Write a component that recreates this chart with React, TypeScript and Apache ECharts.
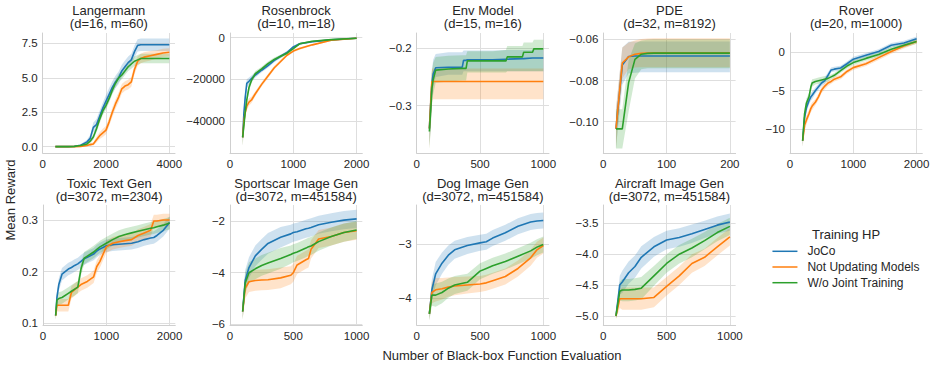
import React, { useEffect, useRef } from "react";
import * as echarts from "echarts";

const FONT = '"Liberation Sans", Arial, Helvetica, sans-serif';
const TEXT = "#262626";
const GRID = "#dedede";
const SPINE = "#cfcfcf";

const seriesNames = ["JoCo", "Not Updating Models", "W/o Joint Training"];
const seriesColors = ["#1f77b4", "#ff7f0e", "#2ca02c"];
const bandColors = ["rgba(31,119,180,0.22)", "rgba(255,127,14,0.22)", "rgba(44,160,44,0.22)"];

// ---------- Langermann ----------
const langX = [400, 800, 1000, 1200, 1400, 1500, 1600, 1700, 1800, 1900, 2000, 2100, 2200, 2300, 2400, 2500, 2600, 2700, 2800, 2900, 3000, 3100, 3200, 3400, 3600, 3800, 4000];
const langJoCo = [0, 0, 0.02, 0.1, 0.35, 0.6, 1.4, 1.6, 2.2, 2.8, 3.3, 3.8, 4.3, 4.7, 5.0, 5.5, 5.8, 6.1, 6.3, 6.9, 7.35, 7.4, 7.4, 7.4, 7.4, 7.4, 7.4];
const langJoCoSd = [0, 0, 0.02, 0.08, 0.15, 0.25, 0.35, 0.4, 0.4, 0.4, 0.45, 0.45, 0.45, 0.45, 0.45, 0.45, 0.45, 0.45, 0.45, 0.45, 0.45, 0.45, 0.45, 0.45, 0.45, 0.45, 0.45];
const langNoUpd = [0, 0, 0, 0.02, 0.08, 0.15, 0.2, 0.5, 0.8, 1.0, 1.2, 1.8, 2.5, 3.1, 3.6, 4.2, 4.4, 4.5, 4.7, 5.6, 6.2, 6.4, 6.5, 6.6, 6.7, 6.8, 6.85];
const langNoUpdSd = [0, 0, 0, 0.02, 0.05, 0.1, 0.12, 0.2, 0.25, 0.3, 0.3, 0.3, 0.35, 0.35, 0.35, 0.35, 0.35, 0.35, 0.35, 0.35, 0.35, 0.35, 0.35, 0.35, 0.3, 0.3, 0.3];
const langNoJoint = [0, 0, 0.02, 0.08, 0.2, 0.4, 0.7, 1.3, 2.0, 2.6, 3.0, 3.5, 4.1, 4.6, 5.0, 5.2, 5.5, 5.8, 6.0, 6.2, 6.3, 6.4, 6.4, 6.4, 6.4, 6.4, 6.4];
const langNoJointSd = [0, 0, 0.02, 0.05, 0.1, 0.15, 0.2, 0.25, 0.3, 0.3, 0.3, 0.3, 0.3, 0.3, 0.3, 0.3, 0.3, 0.3, 0.35, 0.35, 0.35, 0.35, 0.35, 0.35, 0.35, 0.35, 0.35];
const langXTicks = [0, 2000, 4000];
const langXLabels = ["0", "2000", "4000"];
const langYTicks = [0, 2.5, 5, 7.5];
const langYLabels = ["0.0", "2.5", "5.0", "7.5"];

// ---------- Rosenbrock ----------
const rosX = [200, 220, 240, 265, 300, 340, 400, 500, 600, 700, 800, 900, 1000, 1100, 1300, 1600, 2000];
const rosJoCo = [-48000, -36000, -29000, -22000, -21000, -19700, -18000, -15700, -13500, -11000, -9000, -7200, -4500, -3000, -2000, -1100, -300];
const rosNoUpd = [-48000, -40000, -36000, -33000, -31000, -30000, -27000, -22500, -18500, -14500, -11500, -8500, -6500, -5300, -3500, -1300, -300];
const rosNoJoint = [-48000, -42000, -36000, -30000, -24000, -20500, -17300, -15000, -12500, -10500, -9000, -7500, -5300, -3000, -1800, -1000, -300];
const rosSd = [4000, 3000, 2500, 2000, 1800, 1500, 1200, 1000, 1000, 900, 800, 700, 600, 500, 400, 300, 200];
const rosXTicks = [0, 1000, 2000];
const rosXLabels = ["0", "1000", "2000"];
const rosYTicks = [-40000, -20000, 0];
const rosYLabels = ["\u221240000", "\u221220000", "0"];

// ---------- Env Model ----------
const envX = [100, 110, 120, 130, 150, 250, 360, 370, 390, 400, 600, 705, 715, 835, 845, 915, 925, 1000];
const envJoCo = [-0.34, -0.3, -0.262, -0.245, -0.234, -0.233, -0.233, -0.221, -0.221, -0.22, -0.22, -0.219, -0.219, -0.218, -0.218, -0.217, -0.217, -0.217];
const envJoCoLo = [-0.37, -0.34, -0.29, -0.27, -0.25, -0.246, -0.246, -0.24, -0.24, -0.24, -0.24, -0.24, -0.24, -0.24, -0.24, -0.24, -0.24, -0.24];
const envJoCoHi = [-0.31, -0.27, -0.24, -0.22, -0.21, -0.207, -0.207, -0.204, -0.204, -0.204, -0.204, -0.203, -0.203, -0.203, -0.203, -0.203, -0.203, -0.203];
const envNoUpd = [-0.34, -0.3, -0.258, -0.258, -0.258, -0.258, -0.258, -0.258, -0.258, -0.258, -0.258, -0.258, -0.258, -0.258, -0.258, -0.258, -0.258, -0.258];
const envNoUpdLo = [-0.375, -0.34, -0.295, -0.289, -0.289, -0.289, -0.289, -0.289, -0.289, -0.289, -0.289, -0.289, -0.289, -0.289, -0.289, -0.289, -0.289, -0.289];
const envNoUpdHi = [-0.305, -0.265, -0.235, -0.235, -0.235, -0.235, -0.235, -0.235, -0.235, -0.235, -0.235, -0.235, -0.235, -0.235, -0.235, -0.235, -0.235, -0.235];
const envNoJoint = [-0.345, -0.31, -0.27, -0.255, -0.238, -0.236, -0.235, -0.235, -0.235, -0.222, -0.222, -0.222, -0.215, -0.215, -0.207, -0.207, -0.201, -0.201];
const envNoJointLo = [-0.375, -0.345, -0.3, -0.28, -0.26, -0.258, -0.256, -0.256, -0.256, -0.242, -0.242, -0.242, -0.24, -0.24, -0.24, -0.24, -0.24, -0.24];
const envNoJointHi = [-0.315, -0.275, -0.24, -0.225, -0.215, -0.213, -0.212, -0.212, -0.212, -0.205, -0.205, -0.203, -0.196, -0.196, -0.19, -0.19, -0.185, -0.185];
const envXTicks = [0, 500, 1000];
const envXLabels = ["0", "500", "1000"];
const envYTicks = [-0.3, -0.2];
const envYLabels = ["\u22120.3", "\u22120.2"];

// ---------- PDE ----------
const pdeX = [20, 30, 40, 50, 60, 70, 80, 90, 100, 200];
const pdeJoCo = [-0.1035, -0.0725, -0.0683, -0.0681, -0.0681, -0.0681, -0.0681, -0.0681, -0.0681, -0.0681];
const pdeJoCoLo = [-0.113, -0.082, -0.0765, -0.0762, -0.076, -0.076, -0.076, -0.076, -0.076, -0.076];
const pdeJoCoHi = [-0.094, -0.064, -0.0612, -0.061, -0.061, -0.061, -0.061, -0.061, -0.061, -0.061];
const pdeNoUpd = [-0.1035, -0.0715, -0.0685, -0.0672, -0.0668, -0.0666, -0.0665, -0.0665, -0.0665, -0.0665];
const pdeNoUpdLo = [-0.113, -0.079, -0.0745, -0.0737, -0.0735, -0.0735, -0.0735, -0.0735, -0.0735, -0.0735];
const pdeNoUpdHi = [-0.094, -0.064, -0.0615, -0.0605, -0.0598, -0.0596, -0.0595, -0.0595, -0.0595, -0.0595];
const pdeNoJoint = [-0.1035, -0.1035, -0.081, -0.0697, -0.0672, -0.0668, -0.0667, -0.0667, -0.0667, -0.0667];
const pdeNoJointLo = [-0.113, -0.113, -0.095, -0.079, -0.0745, -0.074, -0.074, -0.074, -0.074, -0.074];
const pdeNoJointHi = [-0.094, -0.094, -0.07, -0.062, -0.0605, -0.0602, -0.0601, -0.06, -0.06, -0.06];
const pdeXTicks = [0, 100, 200];
const pdeXLabels = ["0", "100", "200"];
const pdeYTicks = [-0.1, -0.08, -0.06];
const pdeYLabels = ["\u22120.10", "\u22120.08", "\u22120.06"];

// ---------- Rover ----------
const rovX = [200, 230, 260, 300, 330, 350, 400, 450, 500, 550, 600, 650, 700, 800, 900, 1000, 1200, 1400, 1600, 1800, 2000];
const rovJoCo = [-11.5, -8.5, -7.2, -6.3, -5.8, -5.6, -5.0, -4.5, -4.0, -3.7, -3.0, -2.3, -2.2, -2.05, -1.5, -0.9, -0.4, 0.1, 0.9, 1.2, 1.75];
const rovNoUpd = [-11.5, -9.5, -8.8, -8.0, -7.3, -7.0, -6.5, -5.8, -4.9, -4.4, -4.0, -3.8, -3.5, -3.2, -2.5, -2.0, -1.5, -0.7, 0.1, 0.8, 1.4];
const rovNoJoint = [-11.5, -8.0, -6.6, -5.8, -4.5, -4.0, -3.8, -3.7, -3.6, -3.5, -3.4, -3.2, -3.0, -2.4, -1.8, -1.35, -0.8, -0.3, 0.4, 0.9, 1.4];
const rovSd = [0.8, 0.7, 0.6, 0.5, 0.5, 0.5, 0.4, 0.4, 0.4, 0.4, 0.4, 0.3, 0.3, 0.3, 0.3, 0.3, 0.3, 0.3, 0.3, 0.3, 0.3];
const rovXTicks = [0, 1000, 2000];
const rovXLabels = ["0", "1000", "2000"];
const rovYTicks = [-10, -5, 0];
const rovYLabels = ["\u221210", "\u22125", "0"];

// ---------- Toxic Text Gen ----------
const toxX = [200, 220, 250, 300, 400, 450, 500, 550, 600, 650, 700, 800, 850, 900, 1000, 1100, 1200, 1300, 1400, 1500, 1600, 1700, 1750, 1800, 1900, 2000];
const toxJoCo = [0.115, 0.15, 0.175, 0.195, 0.205, 0.208, 0.212, 0.215, 0.22, 0.225, 0.228, 0.234, 0.24, 0.244, 0.25, 0.252, 0.253, 0.254, 0.255, 0.258, 0.262, 0.265, 0.266, 0.27, 0.28, 0.295];
const toxNoUpd = [0.115, 0.135, 0.135, 0.135, 0.135, 0.16, 0.165, 0.17, 0.175, 0.178, 0.181, 0.19, 0.21, 0.22, 0.248, 0.255, 0.258, 0.26, 0.262, 0.27, 0.275, 0.28, 0.298, 0.298, 0.3, 0.3];
const toxNoJoint = [0.115, 0.145, 0.148, 0.15, 0.158, 0.162, 0.166, 0.17, 0.205, 0.226, 0.23, 0.238, 0.243, 0.248, 0.255, 0.262, 0.268, 0.272, 0.275, 0.278, 0.281, 0.284, 0.285, 0.287, 0.29, 0.294];
const toxSd = [0.008, 0.012, 0.012, 0.012, 0.012, 0.012, 0.012, 0.012, 0.012, 0.012, 0.012, 0.012, 0.012, 0.012, 0.012, 0.012, 0.012, 0.012, 0.012, 0.012, 0.012, 0.012, 0.012, 0.012, 0.012, 0.012];
const toxXTicks = [0, 1000, 2000];
const toxXLabels = ["0", "1000", "2000"];
const toxYTicks = [0.1, 0.2, 0.3];
const toxYLabels = ["0.1", "0.2", "0.3"];

// ---------- Sportscar Image Gen ----------
const spX = [100, 120, 150, 200, 250, 300, 400, 480, 500, 530, 600, 620, 640, 700, 800, 900, 1000];
const spJoCo = [-5.5, -4.3, -3.8, -3.35, -3.1, -2.87, -2.63, -2.5, -2.45, -2.42, -2.3, -2.28, -2.25, -2.15, -2.05, -1.97, -1.92];
const spNoUpd = [-5.5, -4.6, -4.35, -4.3, -4.28, -4.27, -4.2, -4.1, -4.0, -3.7, -3.5, -3.45, -3.1, -2.7, -2.6, -2.45, -2.38];
const spNoJoint = [-5.5, -4.4, -4.0, -3.85, -3.72, -3.63, -3.45, -3.3, -3.25, -3.2, -3.05, -3.0, -2.97, -2.8, -2.6, -2.45, -2.35];
const spSd = [0.3, 0.4, 0.4, 0.4, 0.4, 0.4, 0.4, 0.35, 0.35, 0.35, 0.35, 0.35, 0.35, 0.35, 0.35, 0.35, 0.35];
const spXTicks = [0, 500, 1000];
const spXLabels = ["0", "500", "1000"];
const spYTicks = [-6, -4, -2];
const spYLabels = ["\u22126", "\u22124", "\u22122"];

// ---------- Dog Image Gen ----------
const dogX = [100, 120, 150, 200, 250, 300, 400, 500, 550, 600, 700, 800, 900, 950, 1000];
const dogJoCo = [-4.3, -3.85, -3.55, -3.35, -3.2, -3.1, -3.02, -2.97, -2.95, -2.88, -2.78, -2.66, -2.58, -2.56, -2.55];
const dogNoUpd = [-4.3, -3.9, -3.85, -3.83, -3.8, -3.78, -3.76, -3.74, -3.72, -3.68, -3.6, -3.45, -3.25, -3.1, -3.02];
const dogNoJoint = [-4.3, -3.95, -3.95, -3.9, -3.82, -3.76, -3.71, -3.5, -3.45, -3.4, -3.32, -3.22, -3.12, -3.05, -3.0];
const dogSd = [0.12, 0.2, 0.22, 0.2, 0.18, 0.17, 0.16, 0.15, 0.15, 0.15, 0.15, 0.15, 0.15, 0.15, 0.15];
const dogXTicks = [0, 500, 1000];
const dogXLabels = ["0", "500", "1000"];
const dogYTicks = [-4, -3];
const dogYLabels = ["\u22124", "\u22123"];

// ---------- Aircraft Image Gen ----------
const airX = [100, 130, 150, 200, 250, 300, 400, 500, 600, 700, 800, 900, 1000];
const airJoCo = [-5.0, -4.5, -4.45, -4.3, -4.2, -4.05, -3.88, -3.77, -3.73, -3.67, -3.6, -3.53, -3.48];
const airNoUpd = [-5.0, -4.72, -4.72, -4.72, -4.72, -4.72, -4.7, -4.52, -4.35, -4.15, -4.05, -3.88, -3.72];
const airNoJoint = [-5.0, -4.6, -4.58, -4.58, -4.57, -4.55, -4.35, -4.15, -4.0, -3.9, -3.78, -3.65, -3.55];
const airSd = [0.05, 0.15, 0.18, 0.18, 0.18, 0.18, 0.16, 0.15, 0.15, 0.15, 0.14, 0.14, 0.14];
const airXTicks = [0, 500, 1000];
const airXLabels = ["0", "500", "1000"];
const airYTicks = [-5, -4.5, -4, -3.5];
const airYLabels = ["\u22125.0", "\u22124.5", "\u22124.0", "\u22123.5"];

const panelTitles = [
  "Langermann\n(d=16, m=60)",
  "Rosenbrock\n(d=10, m=18)",
  "Env Model\n(d=15, m=16)",
  "PDE\n(d=32, m=8192)",
  "Rover\n(d=20, m=1000)",
  "Toxic Text Gen\n(d=3072, m=2304)",
  "Sportscar Image Gen\n(d=3072, m=451584)",
  "Dog Image Gen\n(d=3072, m=451584)",
  "Aircraft Image Gen\n(d=3072, m=451584)",
];

function spreadBand(mean: number[], sd: number[]): [number[], number[]] {
  return [mean.map((m, i) => m - sd[i]), mean.map((m, i) => m + sd[i])];
}

const panels = [
  { x: langX, means: [langJoCo, langNoUpd, langNoJoint], bands: [spreadBand(langJoCo, langJoCoSd), spreadBand(langNoUpd, langNoUpdSd), spreadBand(langNoJoint, langNoJointSd)], xr: [0, 4180], yr: [-0.46, 8.25], xt: langXTicks, xl: langXLabels, yt: langYTicks, yl: langYLabels },
  { x: rosX, means: [rosJoCo, rosNoUpd, rosNoJoint], bands: [spreadBand(rosJoCo, rosSd), spreadBand(rosNoUpd, rosSd), spreadBand(rosNoJoint, rosSd)], xr: [0, 2090], yr: [-55500, 2200], xt: rosXTicks, xl: rosXLabels, yt: rosYTicks, yl: rosYLabels },
  { x: envX, means: [envJoCo, envNoUpd, envNoJoint], bands: [[envJoCoLo, envJoCoHi], [envNoUpdLo, envNoUpdHi], [envNoJointLo, envNoJointHi]], xr: [0, 1045], yr: [-0.3826, -0.1733], xt: envXTicks, xl: envXLabels, yt: envYTicks, yl: envYLabels },
  { x: pdeX, means: [pdeJoCo, pdeNoUpd, pdeNoJoint], bands: [[pdeJoCoLo, pdeJoCoHi], [pdeNoUpdLo, pdeNoUpdHi], [pdeNoJointLo, pdeNoJointHi]], xr: [0, 209], yr: [-0.1152, -0.0569], xt: pdeXTicks, xl: pdeXLabels, yt: pdeYTicks, yl: pdeYLabels },
  { x: rovX, means: [rovJoCo, rovNoUpd, rovNoJoint], bands: [spreadBand(rovJoCo, rovSd), spreadBand(rovNoUpd, rovSd), spreadBand(rovNoJoint, rovSd)], xr: [0, 2090], yr: [-13.1, 2.5], xt: rovXTicks, xl: rovXLabels, yt: rovYTicks, yl: rovYLabels },
  { x: toxX, means: [toxJoCo, toxNoUpd, toxNoJoint], bands: [spreadBand(toxJoCo, toxSd), spreadBand(toxNoUpd, toxSd), spreadBand(toxNoJoint, toxSd)], xr: [0, 2090], yr: [0.0967, 0.329], xt: toxXTicks, xl: toxXLabels, yt: toxYTicks, yl: toxYLabels },
  { x: spX, means: [spJoCo, spNoUpd, spNoJoint], bands: [spreadBand(spJoCo, spSd), spreadBand(spNoUpd, spSd), spreadBand(spNoJoint, spSd)], xr: [0, 1045], yr: [-6.02, -1.385], xt: spXTicks, xl: spXLabels, yt: spYTicks, yl: spYLabels },
  { x: dogX, means: [dogJoCo, dogNoUpd, dogNoJoint], bands: [spreadBand(dogJoCo, dogSd), spreadBand(dogNoUpd, dogSd), spreadBand(dogNoJoint, dogSd)], xr: [0, 1045], yr: [-4.51, -2.26], xt: dogXTicks, xl: dogXLabels, yt: dogYTicks, yl: dogYLabels },
  { x: airX, means: [airJoCo, airNoUpd, airNoJoint], bands: [spreadBand(airJoCo, airSd), spreadBand(airNoUpd, airSd), spreadBand(airNoJoint, airSd)], xr: [0, 1045], yr: [-5.146, -3.204], xt: airXTicks, xl: airXLabels, yt: airYTicks, yl: airYLabels },
];

// layout (pixel positions of each plot area)
const PW = 132.3;
const PH = 120;
const gridPos = [
  [42.7, 33], [230, 33], [416.7, 33], [603.3, 33], [790, 33],
  [43, 205], [230, 205], [416.7, 205], [603.3, 205],
];

function fmt(ticks: number[], labels: string[]) {
  return (v: number) => {
    let best = 0;
    let bd = Infinity;
    ticks.forEach((t, i) => {
      const d = Math.abs(t - v);
      if (d < bd) { bd = d; best = i; }
    });
    return labels[best];
  };
}

function buildOption() {
  const grid: any[] = [];
  const xAxis: any[] = [];
  const yAxis: any[] = [];
  const series: any[] = [];
  const graphic: any[] = [];

  panels.forEach((p, i) => {
    const [gl, gt] = gridPos[i];
    grid.push({ left: gl, top: gt, width: PW, height: PH, containLabel: false, outerBoundsMode: "none" });
    const labelStyle = { color: TEXT, fontSize: 11.5, fontFamily: FONT };
    xAxis.push({
      type: "value", gridIndex: i, min: p.xr[0], max: p.xr[1],
      axisLine: { show: true, onZero: false, lineStyle: { color: SPINE, width: 1 } },
      axisTick: { show: false, customValues: p.xt },
      axisLabel: { ...labelStyle, customValues: p.xt, formatter: fmt(p.xt, p.xl), margin: 5, showMinLabel: true, showMaxLabel: true, hideOverlap: false },
      splitLine: { show: true, lineStyle: { color: GRID, width: 1 } },
    });
    yAxis.push({
      type: "value", gridIndex: i, min: p.yr[0], max: p.yr[1],
      axisLine: { show: true, onZero: false, lineStyle: { color: SPINE, width: 1 } },
      axisTick: { show: false, customValues: p.yt },
      axisLabel: { ...labelStyle, customValues: p.yt, formatter: fmt(p.yt, p.yl), margin: 5, showMinLabel: true, showMaxLabel: true, hideOverlap: false },
      splitLine: { show: true, lineStyle: { color: GRID, width: 1 } },
    });

    p.bands.forEach((band, k) => {
      const lo = band[0];
      const hi = band[1];
      const xs = p.x;
      series.push({
        type: "custom",
        name: seriesNames[k] + " band",
        xAxisIndex: i, yAxisIndex: i,
        z: 1, silent: true,
        data: xs.map((x, j) => [x, lo[j], hi[j]]),
        encode: { x: 0, y: [1, 2] },
        renderItem: (params: any, api: any) => {
          if (params.dataIndexInside !== 0) return null;
          const pts: number[][] = [];
          for (let j = 0; j < xs.length; j++) pts.push(api.coord([xs[j], hi[j]]));
          for (let j = xs.length - 1; j >= 0; j--) pts.push(api.coord([xs[j], lo[j]]));
          return { type: "polygon", shape: { points: pts }, style: { fill: bandColors[k], stroke: null }, silent: true };
        },
      });
    });
    p.means.forEach((m, k) => {
      series.push({
        type: "line",
        name: seriesNames[k],
        xAxisIndex: i, yAxisIndex: i,
        data: p.x.map((x, j) => [x, m[j]]),
        symbol: "none", showSymbol: false,
        lineStyle: { color: seriesColors[k], width: 1.6 },
        itemStyle: { color: seriesColors[k] },
        z: 2 + k, silent: true,
        emphasis: { disabled: true },
      });
    });

    const rowTitleCenter = i < 5 ? 16.7 : 190;
    graphic.push({
      type: "text", x: gl + PW / 2, y: rowTitleCenter, silent: true,
      style: { text: panelTitles[i], align: "center", verticalAlign: "middle", font: `13px ${FONT}`, fill: TEXT, lineHeight: 13.4 },
    });
  });

  graphic.push({
    type: "text", x: 10, y: 200, rotation: Math.PI / 2, silent: true,
    style: { text: "Mean Reward", align: "center", verticalAlign: "middle", font: `13px ${FONT}`, fill: TEXT },
  });
  graphic.push({
    type: "text", x: 502, y: 355, silent: true,
    style: { text: "Number of Black-box Function Evaluation", align: "center", verticalAlign: "middle", font: `13px ${FONT}`, fill: TEXT },
  });
  graphic.push({
    type: "text", x: 846, y: 234, silent: true,
    style: { text: "Training HP", align: "center", verticalAlign: "middle", font: `13px ${FONT}`, fill: TEXT },
  });

  return {
    animation: false,
    backgroundColor: "#ffffff",
    grid, xAxis, yAxis, series, graphic,
    legend: {
      data: seriesNames,
      orient: "vertical",
      left: 771.7, top: 245.3,
      padding: 0,
      itemWidth: 25, itemHeight: 14, itemGap: 3.7,
      selectedMode: false,
      itemStyle: { opacity: 0, borderWidth: 0 },
      lineStyle: { width: 1.5 },
      textStyle: { color: TEXT, fontSize: 12, fontFamily: FONT, padding: [0, 0, 0, 5] },
    },
    tooltip: { show: false },
  };
}

export default function App() {
  const ref = useRef<HTMLDivElement>(null);
  useEffect(() => {
    document.body.style.margin = "0";
    if (!ref.current) return;
    const chart = echarts.init(ref.current, undefined, { renderer: "svg" });
    chart.setOption(buildOption() as any);
    return () => chart.dispose();
  }, []);
  return <div ref={ref} style={{ position: "fixed", left: 0, top: 0, width: 934, height: 367, background: "#fff" }} />;
}
